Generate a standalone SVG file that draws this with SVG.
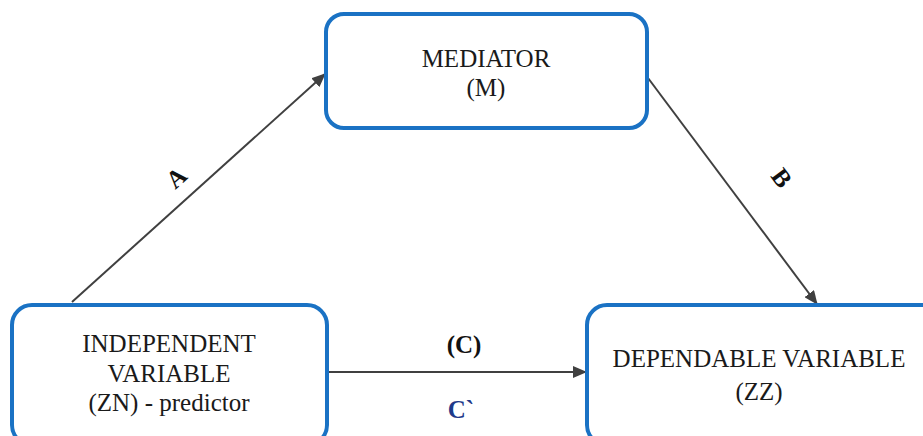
<svg xmlns="http://www.w3.org/2000/svg" width="923" height="436" viewBox="0 0 923 436">
<defs>
<marker id="ah" viewBox="0 0 14 12" refX="13" refY="6" markerWidth="14" markerHeight="12" markerUnits="userSpaceOnUse" orient="auto">
<path d="M0,0 L14,6 L0,12 z" fill="#404040"/>
</marker>
<style>
.box{fill:#fff;stroke:#1a72c4;stroke-width:4}
.t{font-size:25px;fill:#1a1a1a;text-anchor:middle}
.lb{font-size:25px;font-weight:bold;fill:#111;text-anchor:middle}
.ln{stroke:#404040;stroke-width:2;fill:none}
</style>
</defs>
<rect width="923" height="436" fill="#fff"/>
<g id="connectors" font-family="'Liberation Serif', 'DejaVu Serif', serif">
<line class="ln" x1="72" y1="302" x2="325" y2="74" marker-end="url(#ah)"/>
<line class="ln" x1="648" y1="78" x2="817" y2="304" marker-end="url(#ah)"/>
<line class="ln" x1="327" y1="372" x2="586" y2="372" marker-end="url(#ah)"/>
<text class="lb" transform="translate(182,184) rotate(-42)">A</text>
<text class="lb" transform="translate(775,183) rotate(53)">B</text>
<text class="lb" x="464" y="353">(C)</text>
<text class="lb" x="461" y="418" style="fill:#1f3a8a">C`</text>
</g>
<g id="mediator" font-family="'Liberation Serif', 'DejaVu Serif', serif">
<rect class="box" x="326" y="14" width="321" height="114" rx="18"/>
<text class="t" x="486" y="67">MEDIATOR</text>
<text class="t" x="486" y="96">(M)</text>
</g>
<g id="independent" font-family="'Liberation Serif', 'DejaVu Serif', serif">
<rect class="box" x="12" y="305" width="315" height="140" rx="20"/>
<text class="t" x="169" y="352">INDEPENDENT</text>
<text class="t" x="169" y="382">VARIABLE</text>
<text class="t" x="169" y="411">(ZN) - predictor</text>
</g>
<g id="dependable" font-family="'Liberation Serif', 'DejaVu Serif', serif">
<rect class="box" x="587" y="305" width="360" height="140" rx="20"/>
<text class="t" x="759" y="367">DEPENDABLE VARIABLE</text>
<text class="t" x="759" y="400">(ZZ)</text>
</g>
</svg>
